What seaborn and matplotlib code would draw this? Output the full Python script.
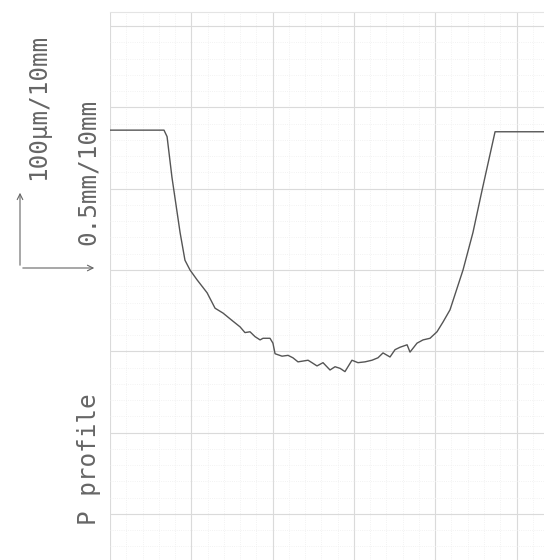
import pandas as pd
import matplotlib
matplotlib.use("Agg")
import matplotlib.pyplot as plt
from matplotlib.ticker import MultipleLocator
import seaborn as sns

# profile: position (mm) and height (um)
pos_mm = [0.000, 0.332, 0.351, 0.381, 0.431, 0.461, 0.492, 0.535, 0.597, 0.646,
          0.695, 0.750, 0.800, 0.830, 0.861, 0.892, 0.923, 0.941, 0.984, 1.002,
          1.015, 1.058, 1.095, 1.125, 1.156, 1.187, 1.218, 1.242, 1.273, 1.310,
          1.353, 1.384, 1.415, 1.445, 1.488, 1.525, 1.568, 1.611, 1.648, 1.679,
          1.722, 1.753, 1.784, 1.827, 1.845, 1.888, 1.925, 1.968, 2.011, 2.048,
          2.091, 2.171, 2.232, 2.288, 2.368, 2.669]
height_um = [172, 172, 164, 114, 46, 12, 0, -12, -28, -47,
             -53, -62, -70, -77, -76, -82, -86, -84, -84, -90,
             -103, -106, -105, -108, -113, -112, -111, -114, -118, -114,
             -123, -119, -121, -125, -111, -114, -113, -111, -108, -102,
             -107, -98, -95, -92, -101, -90, -86, -84, -76, -64,
             -49, 0, 46, 98, 170, 170]

df = pd.DataFrame({"x": pos_mm, "y": height_um})

sns.set_style("white")
fig = plt.figure(figsize=(5.44, 5.60), dpi=100)
ax = fig.add_axes([110 / 544, 0, 434 / 544, 548 / 560])

sns.lineplot(data=df, x="x", y="y", sort=False, color="#555555", linewidth=1.0, ax=ax)

ax.set_xlim(0, 2.669)
ax.set_ylim(-356.7, 317.3)
ax.xaxis.set_major_locator(MultipleLocator(0.5))
ax.yaxis.set_major_locator(MultipleLocator(100))
ax.xaxis.set_minor_locator(MultipleLocator(0.1))
ax.yaxis.set_minor_locator(MultipleLocator(20))
ax.grid(which="major", color="#dadada", linewidth=0.8)
ax.grid(which="minor", color="#eeeeee", linewidth=0.6, linestyle=":")
ax.tick_params(which="both", length=0, labelbottom=False, labelleft=False)
ax.set_xlabel("")
ax.set_ylabel("")
for s in ax.spines.values():
    s.set_visible(False)
ax.spines["top"].set_visible(True)
ax.spines["top"].set_color("#e4e4e4")

txt = dict(family="DejaVu Sans Mono", fontsize=17.5, color="#666666",
           rotation=90, ha="center", va="center")
fig.text(38 / 544, 1 - 107 / 560, "100µm/10mm", **txt)
fig.text(88 / 544, 1 - 172 / 560, "0.5mm/10mm", **txt)
fig.text(89 / 544, 1 - 459 / 560, "P profile", **txt)

# scale arrows
arrow = dict(arrowstyle="->", color="#666666", lw=0.8)
ax.annotate("", xy=(20 / 544, 1 - 190 / 560), xytext=(20 / 544, 1 - 268 / 560),
            xycoords="figure fraction", textcoords="figure fraction", arrowprops=arrow)
ax.annotate("", xy=(97 / 544, 1 - 268 / 560), xytext=(20 / 544, 1 - 268 / 560),
            xycoords="figure fraction", textcoords="figure fraction", arrowprops=arrow)

fig.savefig("out.png", dpi=100)
